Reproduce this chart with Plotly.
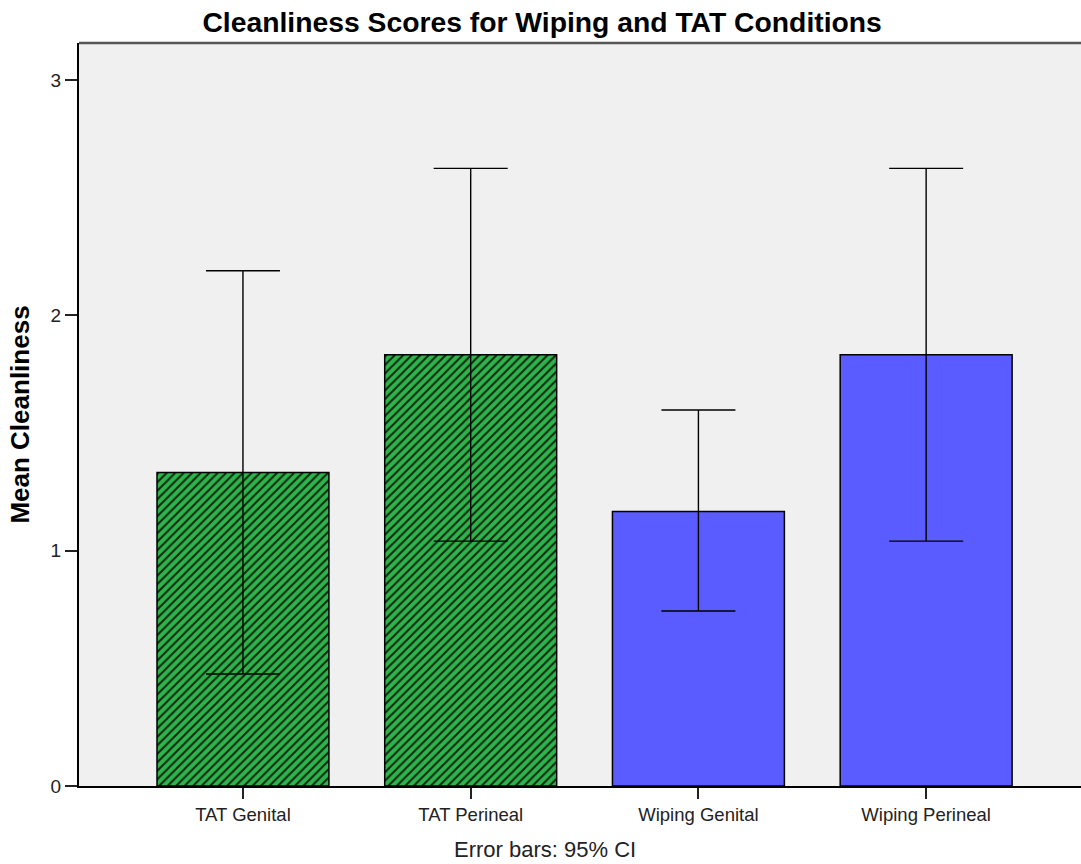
import plotly.graph_objects as go

categories = ["TAT Genital", "TAT Perineal", "Wiping Genital", "Wiping Perineal"]
means = [1.333, 1.833, 1.167, 1.833]
ci_upper = [2.19, 2.625, 1.598, 2.625]
ci_lower = [0.476, 1.041, 0.744, 1.041]
groups = ["TAT", "TAT", "Wiping", "Wiping"]

group_colors = {"TAT": "#2db54c", "Wiping": "#5a5cff"}
group_patterns = {"TAT": "/", "Wiping": ""}

fig = go.Figure()
for g in ["TAT", "Wiping"]:
    idx = [i for i, gg in enumerate(groups) if gg == g]
    xs = [categories[i] for i in idx]
    ys = [means[i] for i in idx]
    ep = [ci_upper[i] - means[i] for i in idx]
    em = [means[i] - ci_lower[i] for i in idx]
    pat = dict(shape=group_patterns[g], fgcolor="#0d2810", bgcolor=group_colors[g],
               size=6, solidity=0.35, fillmode="replace", fgopacity=1)
    fig.add_trace(go.Bar(
        x=xs, y=ys, width=0.755,
        marker=dict(color=group_colors[g], line=dict(color="black", width=1.5),
                    pattern=pat),
        error_y=dict(type="data", symmetric=False, array=ep, arrayminus=em,
                     color="black", thickness=1.4, width=37),
        showlegend=False,
    ))

fig.update_layout(
    width=1081, height=864,
    margin=dict(l=79, r=0, t=43, b=78),
    paper_bgcolor="white",
    plot_bgcolor="#f0f0f0",
    font=dict(family="Liberation Sans, Arial, sans-serif", color="#222222", size=18),
    title=dict(text="<b>Cleanliness Scores for Wiping and TAT Conditions</b>",
               x=0.5015, xanchor="center", y=0.975, yanchor="middle",
               font=dict(size=28.3, color="black")),
    barmode="overlay",
)
fig.update_xaxes(
    categoryorder="array", categoryarray=categories,
    range=[-0.72, 3.68],
    showline=True, linecolor="black", linewidth=2,
    ticks="outside", ticklen=11, tickcolor="#222222", tickwidth=1.5,
    showgrid=False, tickfont=dict(size=18.5, color="#222222"),
)
fig.update_yaxes(
    range=[0, 3.158],
    tickvals=[0, 1, 2, 3],
    showline=True, linecolor="black", linewidth=2,
    ticks="outside", ticklen=12, tickcolor="#222222", tickwidth=1.5,
    showgrid=False, zeroline=False, tickfont=dict(size=19, color="#222222"),
    title=dict(text="<b>Mean Cleanliness</b>", font=dict(size=26, color="black"), standoff=14),
)
fig.add_shape(type="line", xref="paper", yref="paper", x0=0, x1=1, y0=1, y1=1,
              line=dict(color="#555555", width=2.5))
fig.add_annotation(text="Error bars: 95% CI", xref="paper", yref="paper",
                   x=0.465, y=-0.086, xanchor="center", yanchor="middle",
                   showarrow=False, font=dict(size=22, color="#222222"))

fig.write_html("out.html", config={"displayModeBar": False},
               post_script="document.body.style.margin='0';")
